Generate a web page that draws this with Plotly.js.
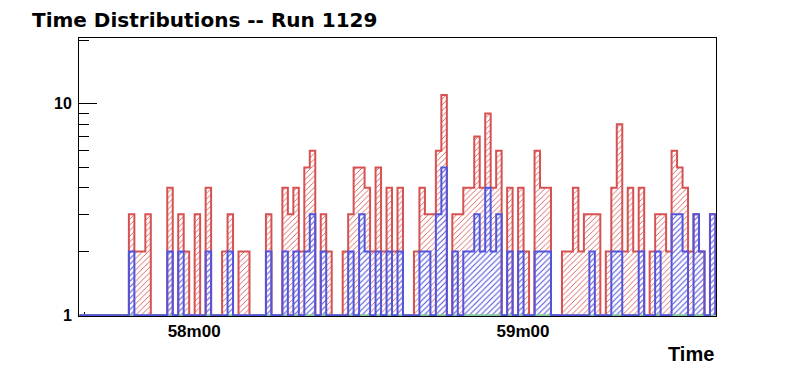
<!DOCTYPE html>
<html>
<head>
<meta charset="utf-8">
<script src="https://cdn.plot.ly/plotly-3.0.1.min.js"></script>
<style>html,body{margin:0;padding:0;background:#fff;}#chart{width:796px;height:372px;}</style>
</head>
<body>
<div id="chart"></div>
<script>
// Histogram binning: 1-second bins, first bin starts at 57m39.1s (in seconds)
const binStart = 3459.1;
const binWidth = 1;

// Counts per 1-second bin (116 bins)
const redCounts = [
  0,0,0,0,0,0,0,0,0,3, 2,2,3,0,0,0,4,0,3,2,
  0,3,0,4,0,0,2,3,0,2, 2,0,0,0,3,0,0,4,3,4,
  2,5,6,0,3,2,0,0,2,3, 5,5,4,2,5,2,4,2,4,0,
  0,2,4,3,3,6,11,0,3,3, 4,4,7,4,9,4,6,0,4,0,
  4,2,0,6,4,4,0,0,2,2, 4,2,3,3,3,0,2,4,8,2,
  4,2,4,0,2,3,3,2,6,5, 4,2,3,2,0,3
];
const blueCounts = [
  0,0,0,0,0,0,0,0,0,2, 0,0,0,0,0,0,2,0,2,0,
  0,0,0,2,0,0,0,2,0,0, 0,0,0,0,2,0,0,2,0,2,
  0,2,3,0,2,0,0,0,0,2, 0,3,2,0,2,0,2,0,2,0,
  0,0,2,2,0,3,5,0,2,0, 2,2,3,2,4,2,3,0,2,0,
  2,0,0,2,2,2,0,0,0,0, 0,0,0,2,0,0,0,2,2,0,
  0,0,2,0,0,2,0,0,3,3, 2,0,3,2,0,3
];
const greenCounts = [
  0,0,0,0,0,0,0,0,0,0, 0,0,0,0,0,0,0,0,0,0,
  0,0,0,0,0,0,0,0,0,0, 0,0,0,0,0,0,0,0,0,0,
  0,0,0,0,0,0,0,0,0,0, 0,0,0,0,0,0,0,0,0,0,
  0,0,0,0,0,0,0,0,0,0, 0,0,0,0,0,0,0,0,0,0,
  0,0,0,0,0,0,0,0,0,0, 0,0,0,0,0,0,0,0,0,0,
  0,0,0,0,0,0,0,0,0,0, 0,0,0,0,0,0
];

// Axis ticks
const majorTickTimes = [3480, 3540];
const majorTickLabels = ["58m00", "59m00"];
const minorTickTimes = [3460, 3500, 3520, 3560];
const yTickVals = [1, 10];
const yTickLabels = ["1", "10"];
const yMinorVals = [2, 3, 4, 5, 6, 7, 8, 9, 20];

const RED = "#d65252";
const BLUE = "#5454da";
const GREEN = "#80c89a";

// Step outline of a histogram on a log axis (empty bins sit at the floor, 1)
function stepPath(counts) {
  const xs = [binStart], ys = [1];
  for (let k = 0; k < counts.length; k++) {
    const x0 = binStart + k * binWidth;
    const v = Math.max(counts[k], 1);
    xs.push(x0, x0 + binWidth);
    ys.push(v, v);
  }
  xs.push(binStart + counts.length * binWidth);
  ys.push(1);
  return {xs, ys};
}

const r = stepPath(redCounts);
const b = stepPath(blueCounts);
const g = stepPath(greenCounts);

function fillTrace(p, color, size, solidity) {
  return {
    x: p.xs, y: p.ys, type: "scatter", mode: "lines",
    fill: "toself", fillcolor: "rgba(255,255,255,1)",
    fillpattern: {shape: "/", size: size, solidity: solidity, fgcolor: color, bgcolor: "#ffffff"},
    line: {width: 0, color: color}, hoverinfo: "skip", showlegend: false
  };
}
function lineTrace(p, color) {
  return {
    x: p.xs, y: p.ys, type: "scatter", mode: "lines",
    line: {width: 2, color: color, shape: "linear"},
    hoverinfo: "skip", showlegend: false
  };
}

const data = [
  fillTrace(r, RED, 4, 0.22),
  fillTrace(b, BLUE, 4, 0.28),
  lineTrace(r, RED),
  lineTrace(g, GREEN),
  lineTrace(b, BLUE)
];

const FONT = "Liberation Sans, Arial, Helvetica, sans-serif";

const layout = {
  width: 796, height: 372,
  margin: {l: 79, r: 80, t: 38, b: 56, pad: 0},
  paper_bgcolor: "#ffffff", plot_bgcolor: "#ffffff",
  font: {family: FONT, color: "#000"},
  title: {
    text: "Time Distributions -- Run 1129",
    font: {family: "DejaVu Sans, Liberation Sans, Arial, sans-serif", size: 20, weight: "bold", color: "#000"},
    x: 32 / 796, xanchor: "left", xref: "container",
    y: 1 - 20 / 372, yanchor: "middle", yref: "container"
  },
  xaxis: {
    range: [3459.0, 3575.2],
    showgrid: false, zeroline: false,
    showline: true, linecolor: "#000", linewidth: 1, mirror: true,
    ticks: "inside", ticklen: 8, tickwidth: 1, tickcolor: "#000",
    tickmode: "array", tickvals: majorTickTimes, ticktext: majorTickLabels,
    tickfont: {family: FONT, size: 17, weight: "bold", color: "#000"},
    minor: {tickmode: "array", tickvals: minorTickTimes, ticks: "inside", ticklen: 4, tickwidth: 1, tickcolor: "#000", showgrid: false},
    layer: "below traces"
  },
  yaxis: {
    type: "log",
    range: [-0.004, 1.311],
    showgrid: false, zeroline: false,
    showline: true, linecolor: "#000", linewidth: 1, mirror: true,
    ticks: "inside", ticklen: 18, tickwidth: 1, tickcolor: "#000",
    tickmode: "array", tickvals: yTickVals, ticktext: yTickLabels,
    tickfont: {family: FONT, size: 16, weight: "bold", color: "#000"},
    ticklabelstandoff: 3,
    minor: {tickmode: "array", tickvals: yMinorVals, ticks: "inside", ticklen: 10, tickwidth: 1, tickcolor: "#000", showgrid: false},
    layer: "below traces"
  },
  annotations: [{
    text: "Time", xref: "paper", yref: "paper",
    x: 1, xanchor: "right", y: -0.135, yanchor: "middle",
    showarrow: false,
    font: {family: FONT, size: 20, weight: "bold", color: "#000"}
  }]
};

Plotly.newPlot("chart", data, layout, {staticPlot: true, displayModeBar: false});
</script>
</body>
</html>
